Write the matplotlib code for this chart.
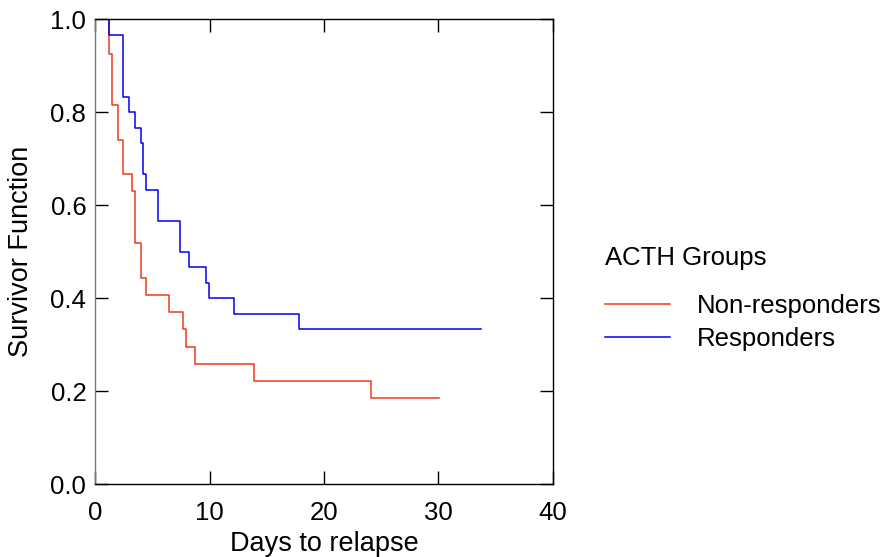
import matplotlib
matplotlib.use("Agg")
import matplotlib.pyplot as plt

# Kaplan-Meier estimates (step times and survival after each step)
nonresp_days = [0, 1.19, 1.45, 1.95, 2.44, 3.17, 3.43, 3.96, 4.43, 6.44, 7.66, 7.93, 8.68, 13.87, 24.08, 30.03]
nonresp_surv = [1.0, 0.926, 0.815, 0.741, 0.667, 0.630, 0.519, 0.444, 0.407, 0.370, 0.333, 0.296, 0.259, 0.222, 0.185, 0.185]

resp_days = [0, 1.19, 2.44, 2.97, 3.46, 3.96, 4.19, 4.43, 5.45, 7.40, 8.16, 9.68, 9.91, 12.13, 17.84, 33.74]
resp_surv = [1.0, 0.967, 0.833, 0.800, 0.767, 0.733, 0.667, 0.633, 0.567, 0.500, 0.467, 0.433, 0.400, 0.367, 0.333, 0.333]

x_ticks = [0, 10, 20, 30, 40]
y_ticks = [0.0, 0.2, 0.4, 0.6, 0.8, 1.0]

plt.rcParams['font.family'] = ['Liberation Sans', 'DejaVu Sans']
plt.rcParams['font.size'] = 18

fig = plt.figure(figsize=(8.88, 5.57), dpi=100)
ax = fig.add_axes([0.1074, 0.1305, 0.515, 0.8348])

ax.plot(nonresp_days, nonresp_surv, drawstyle='steps-post', color='#EE3B1A', lw=1.1, label='Non-responders')
ax.plot(resp_days, resp_surv, drawstyle='steps-post', color='#0000F0', lw=1.1, label='Responders')

ax.set_xlim(0, 40)
ax.set_ylim(0, 1.0)
ax.set_xticks(x_ticks)
ax.set_yticks(y_ticks)
ax.set_yticklabels([f"{v:.1f}" for v in y_ticks])
ax.tick_params(direction='in', length=9.5, width=1, top=True, right=True, labelsize=18.5)
ax.tick_params(axis='x', pad=12)
ax.tick_params(axis='y', pad=6.5)
for s in ax.spines.values():
    s.set_linewidth(1)
ax.spines['left'].set_color('#777777')

ax.set_xlabel('Days to relapse', fontsize=19.5, labelpad=4)
ax.set_ylabel('Survivor Function', fontsize=19.5, labelpad=12)

leg = ax.legend(title='ACTH Groups', frameon=False, loc='upper left',
                bbox_to_anchor=(1.093, 0.534), handlelength=2.5, handletextpad=1.05,
                labelspacing=0.35, fontsize=18.5, title_fontsize=18.5, borderaxespad=0)
leg._legend_box.align = 'left'
leg._legend_box.sep = 17

fig.savefig('out.png', dpi=100)
